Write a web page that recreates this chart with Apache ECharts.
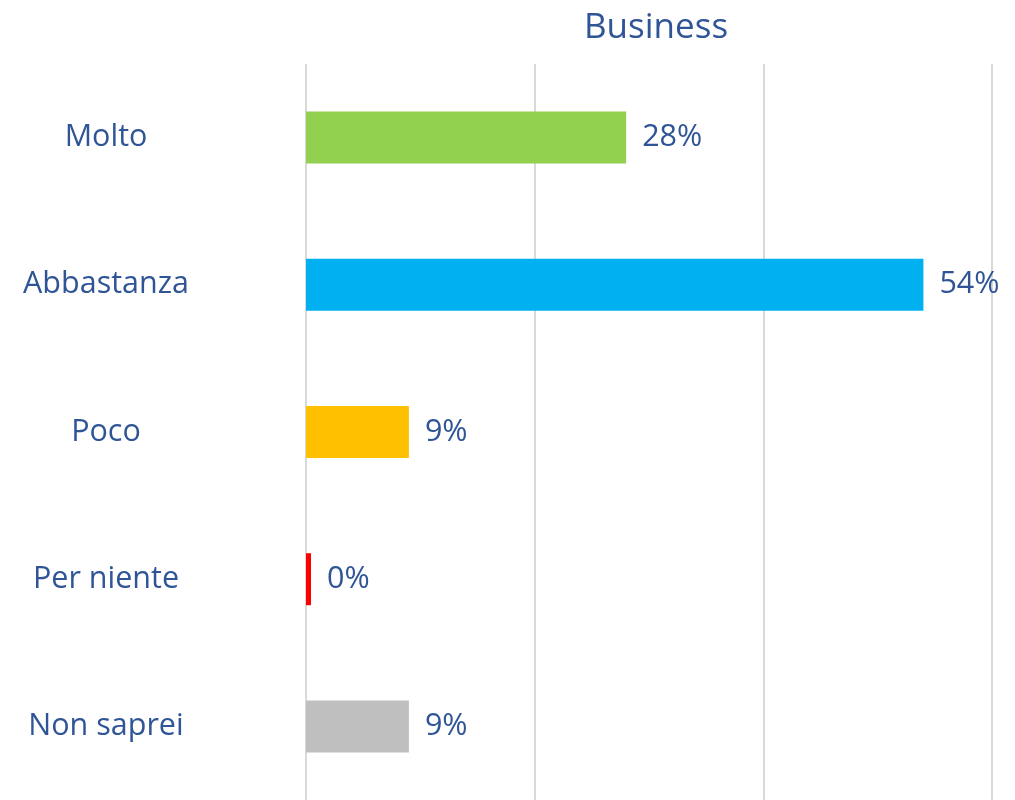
<!DOCTYPE html>
<html>
<head>
<meta charset="utf-8">
<script src="https://cdn.jsdelivr.net/npm/echarts@6/dist/echarts.min.js"></script>
<style>
  html, body { margin: 0; padding: 0; background: #ffffff; }
  #chart { width: 1015px; height: 800px; }
</style>
</head>
<body>
<div id="chart"></div>
<script>
// Survey answers and their shares (percent)
const categories = ['Molto', 'Abbastanza', 'Poco', 'Per niente', 'Non saprei'];
const values = [28, 54, 9, 0, 9];
const barColors = ['#92D050', '#00B0F0', '#FFC000', '#FF0000', '#BFBFBF'];
const chartTitle = 'Business';

const textColor = '#2F5597';
const fontFamily = '"Open Sans", "Noto Sans", sans-serif';

const chart = echarts.init(document.getElementById('chart'), null, { renderer: 'canvas' });

chart.setOption({
  backgroundColor: '#ffffff',
  animation: false,
  title: {
    text: chartTitle,
    left: 579,
    top: 6,
    textStyle: { color: textColor, fontFamily: fontFamily, fontWeight: 'normal', fontSize: 35 }
  },
  grid: { left: 306, right: 23, top: 64, height: 740 },
  xAxis: {
    type: 'value',
    min: 0,
    max: 60,
    interval: 20,
    axisLabel: { show: false },
    axisLine: { show: false },
    axisTick: { show: false },
    splitLine: { lineStyle: { color: '#D9D9D9', width: 2 } }
  },
  yAxis: {
    type: 'category',
    data: categories,
    inverse: true,
    axisLine: { show: false },
    axisTick: { show: false },
    axisLabel: {
      margin: 200,
      align: 'center',
      padding: [4, 0, 0, 0],
      color: textColor,
      fontFamily: fontFamily,
      fontSize: 30.5
    }
  },
  series: [{
    type: 'bar',
    barWidth: 52,
    barMinHeight: 5,
    data: values.map((v, i) => ({ value: v, itemStyle: { color: barColors[i] } })),
    label: {
      show: true,
      position: 'right',
      distance: 16,
      padding: [4, 0, 0, 0],
      formatter: p => p.value + '%',
      color: textColor,
      fontFamily: fontFamily,
      fontSize: 30.5
    }
  }]
});
</script>
</body>
</html>
